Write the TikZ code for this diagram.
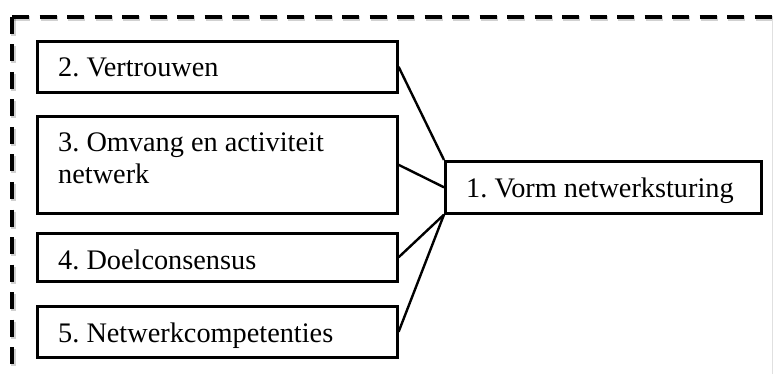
\documentclass[tikz,border=0pt]{standalone}
\usepackage{fontspec}
\setmainfont{Liberation Serif}
\usetikzlibrary{calc}
\frenchspacing
\begin{document}
\begin{tikzpicture}[x=1pt,y=-1pt,
  frame/.style={line width=3.8pt,dash pattern=on 17pt off 10.5pt},
  frameshadow/.style={line width=5pt,dash pattern=on 17pt off 10.5pt,black,opacity=0.18},
  box/.style={draw,line width=2.6pt,fill=white,inner sep=0pt,anchor=north west},
  lbl/.style={anchor=base west,inner sep=0pt,font=\fontsize{28.3}{31}\selectfont},
  link/.style={line width=2.4pt}]
\useasboundingbox (0,0) rectangle (773,374);
\begin{scope}
\clip (0,0) rectangle (773,374);
% dashed outer frame with a soft shadow
\draw[frameshadow] ($(12,17)+(1,2)$) -- ++(0,400);
\draw[frameshadow] ($(12,17)+(1,2)$) -- ++(800,0);
\draw[frame] (12,17) -- (12,420);
\draw[frame] (12,17) -- (820,17);
\draw[black!12,line width=1pt] (772,20) -- (772,374);
\end{scope}

% factor boxes
\node[box,minimum width=360pt,minimum height=51pt] (b2) at (36,40) {};
\node[box,minimum width=360pt,minimum height=97pt] (b3) at (36,115) {};
\node[box,minimum width=360pt,minimum height=48pt] (b4) at (36,232) {};
\node[box,minimum width=360pt,minimum height=51pt] (b5) at (36,305) {};
\node[box,minimum width=316pt,minimum height=52pt] (b1) at (444,160) {};

% box texts
\node[lbl] (t2) at ($(b2.north west)+(22,37)$) {2. Vertrouwen};
\node[lbl] (t3a) at ($(b3.north west)+(22,37)$) {3. Omvang en activiteit};
\node[lbl] (t3b) at ($(b3.north west)+(22,68)$) {netwerk};
\node[lbl] (t4) at ($(b4.north west)+(22,37)$) {4. Doelconsensus};
\node[lbl] (t5) at ($(b5.north west)+(22,37)$) {5. Netwerkcompetenties};
\node[lbl] (t1) at ($(b1.north west)+(22,37)$) {1. Vorm netwerksturing};

% connectors
\draw[link] (b2.east) -- (b1.north west);
\draw[link] (b3.east) -- (b1.west);
\draw[link] (b4.east) -- (b1.south west);
\draw[link] (b5.east) -- (b1.south west);
\end{tikzpicture}
\end{document}
